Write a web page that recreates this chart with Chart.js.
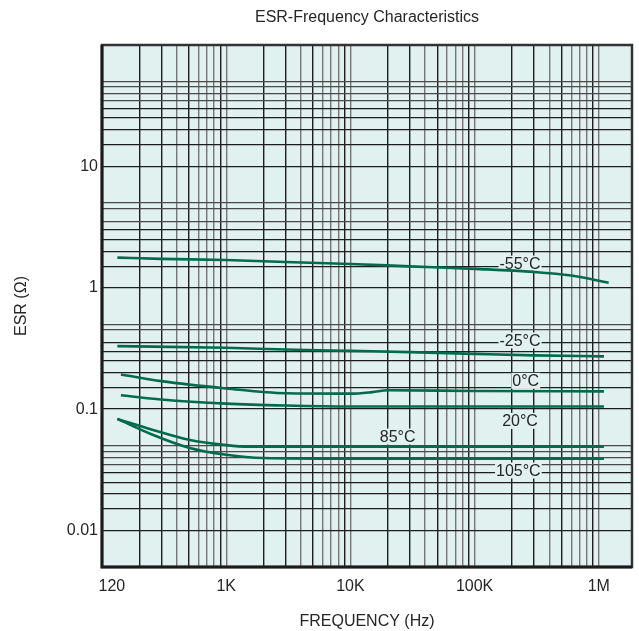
<!DOCTYPE html>
<html>
<head>
<meta charset="utf-8">
<script src="https://cdn.jsdelivr.net/npm/chart.js@4"></script>
<style>
  html, body { margin: 0; padding: 0; background: #fff; }
  #wrap { width: 639px; height: 631px; }
</style>
</head>
<body>
<div id="wrap"><canvas id="esrChart"></canvas></div>
<script>
// ESR curves (Hz / ohm)
const freqM55 = [133, 300, 1000, 3000, 10000, 30000, 100000, 300000, 600000, 1200000];
const esrM55 = [1.77, 1.73, 1.69, 1.63, 1.57, 1.50, 1.43, 1.35, 1.26, 1.10];

const freqM25 = [133, 1000, 3000, 10000, 30000, 100000, 300000, 1100000];
const esrM25 = [0.33, 0.32, 0.31, 0.302, 0.295, 0.285, 0.277, 0.272];

const freq0 = [142, 300, 1000, 3000, 10000, 15000, 20000, 100000, 1100000];
const esr0 = [0.193, 0.170, 0.148, 0.135, 0.134, 0.138, 0.143, 0.141, 0.140];

const freq20 = [142, 300, 1000, 3000, 10000, 1100000];
const esr20 = [0.130, 0.120, 0.111, 0.107, 0.105, 0.105];

const freq85 = [133, 250, 500, 1000, 1500, 10000, 1100000];
const esr85 = [0.083, 0.068, 0.056, 0.0505, 0.049, 0.049, 0.049];

const freq105 = [133, 250, 500, 1000, 2000, 10000, 1100000];
const esr105 = [0.083, 0.062, 0.048, 0.042, 0.0395, 0.039, 0.039];

const tempLabels = ["-55°C", "-25°C", "0°C", "20°C", "85°C", "105°C"];
const labelFreq = [232000, 232000, 258000, 232000, 24000, 225000];
const labelEsr = [1.58, 0.368, 0.171, 0.080, 0.0594, 0.0312];

const xTickVals = [120, 1000, 10000, 100000, 1000000];
const xTickText = ["120", "1K", "10K", "100K", "1M"];
const yTickVals = [0.01, 0.1, 1, 10];
const yTickText = ["0.01", "0.1", "1", "10"];

const FONT = "'Liberation Sans', Arial, sans-serif";
const TEXT = "#262626";
const PLOT_BG = "#e1f1ef";
const GREEN = "#006b4c";

function pairs(xs, ys) {
  return xs.map((x, i) => ({ x: x, y: ys[i] }));
}

function logGrid(from, to, skip) {
  const out = [];
  for (let d = from; d < to * 1.0001; d *= 10) {
    for (let m = 1; m < 10; m++) {
      const v = +(d * m).toPrecision(6);
      if (v > to * 1.0001 || v < from) continue;
      if (skip && skip.includes(v)) continue;
      out.push(v);
    }
  }
  return out;
}

function findIdx(list, v) {
  return list.findIndex((t) => Math.abs(v / t - 1) < 1e-6);
}

function mantissa(v) {
  return Math.round(v / Math.pow(10, Math.floor(Math.log10(v) + 1e-9)));
}

const xGrid = logGrid(100, 1000000).concat([120]);
const yGrid = logGrid(0.005, 100, [0.4, 4]);

function labelBoxes(chart, withText) {
  const { ctx, scales } = chart;
  ctx.save();
  ctx.font = "16px " + FONT;
  ctx.textAlign = "center";
  ctx.textBaseline = "middle";
  tempLabels.forEach((t, i) => {
    const x = scales.x.getPixelForValue(labelFreq[i]);
    const y = scales.y.getPixelForValue(labelEsr[i]);
    const w = ctx.measureText(t).width;
    if (withText) {
      ctx.fillStyle = TEXT;
      ctx.fillText(t, x, y + 1);
    } else {
      ctx.fillStyle = PLOT_BG;
      ctx.fillRect(x - w / 2 - 1, y - 8, w + 2, 16);
    }
  });
  ctx.restore();
}

const plotFrame = {
  id: "plotFrame",
  beforeDraw(chart) {
    const { ctx, chartArea: a } = chart;
    ctx.save();
    ctx.fillStyle = PLOT_BG;
    ctx.fillRect(a.left, a.top, a.right - a.left, a.bottom - a.top);
    ctx.restore();
  },
  beforeDatasetsDraw(chart) {
    labelBoxes(chart, false);
  },
  afterDatasetsDraw(chart) {
    labelBoxes(chart, true);
  },
  afterDraw(chart) {
    const { ctx, chartArea: a } = chart;
    ctx.save();
    ctx.strokeStyle = "#333";
    ctx.lineWidth = 2.5;
    ctx.strokeRect(a.left, a.top, a.right - a.left, a.bottom - a.top);
    ctx.strokeStyle = "#1c1c1c";
    ctx.lineWidth = 3;
    ctx.beginPath();
    ctx.moveTo(a.left, a.top);
    ctx.lineTo(a.left, a.bottom);
    ctx.lineTo(a.right, a.bottom);
    ctx.stroke();
    ctx.fillStyle = TEXT;
    ctx.font = "16px " + FONT;
    ctx.textAlign = "center";
    ctx.textBaseline = "middle";
    ctx.fillText("ESR-Frequency Characteristics", (a.left + a.right) / 2, 18);
    ctx.restore();
  },
};

function curve(label, xs, ys) {
  return {
    label: label,
    data: pairs(xs, ys),
    borderColor: GREEN,
    borderWidth: 2.6,
    pointRadius: 0,
    fill: false,
    cubicInterpolationMode: "monotone",
  };
}

new Chart(document.getElementById("esrChart"), {
  type: "line",
  data: {
    datasets: [
      curve("-55°C", freqM55, esrM55),
      curve("-25°C", freqM25, esrM25),
      curve("0°C", freq0, esr0),
      curve("20°C", freq20, esr20),
      curve("85°C", freq85, esr85),
      curve("105°C", freq105, esr105),
    ],
  },
  options: {
    responsive: true,
    maintainAspectRatio: false,
    animation: false,
    layout: { padding: { left: 0, right: 7, top: 45, bottom: 0 } },
    plugins: {
      legend: { display: false },
      tooltip: { enabled: false },
      title: { display: false },
    },
    scales: {
      x: {
        type: "logarithmic",
        min: 100,
        max: 1850000,
        afterBuildTicks: (scale) => {
          scale.ticks = xGrid.map((v) => ({ value: v }));
        },
        afterFit: (scale) => {
          scale.height = 64;
        },
        border: { display: false },
        grid: {
          drawTicks: false,
          lineWidth: 1.4,
          color: (ctx) => {
            const v = ctx.tick.value;
            if (v === 120) return "rgba(0,0,0,0)";
            const m = mantissa(v);
            return m === 2 || m === 3 || m === 5 || m === 9 ? "#1e1e1e" : "#767676";
          },
        },
        ticks: {
          autoSkip: false,
          maxRotation: 0,
          padding: 10,
          color: TEXT,
          font: { family: FONT, size: 16 },
          callback: (value) => {
            const i = findIdx(xTickVals, value);
            return i >= 0 ? xTickText[i] : "";
          },
        },
        title: {
          display: true,
          text: "FREQUENCY (Hz)",
          color: TEXT,
          font: { family: FONT, size: 16 },
          padding: { top: 0, bottom: 0 },
        },
      },
      y: {
        type: "logarithmic",
        min: 0.005,
        max: 100,
        afterBuildTicks: (scale) => {
          scale.ticks = yGrid.map((v) => ({ value: v }));
        },
        afterFit: (scale) => {
          scale.width = 102;
        },
        border: { display: false },
        grid: {
          drawTicks: false,
          lineWidth: 1.3,
          color: (ctx) => {
            const m = mantissa(ctx.tick.value);
            return m === 1 || m === 2 || m === 3 || m === 7 || m === 8 ? "#1e1e1e" : "#4a4a4a";
          },
        },
        ticks: {
          autoSkip: false,
          padding: 4,
          color: TEXT,
          font: { family: FONT, size: 16 },
          callback: (value) => {
            const i = findIdx(yTickVals, value);
            return i >= 0 ? yTickText[i] : "";
          },
        },
        title: {
          display: true,
          text: "ESR (Ω)",
          color: TEXT,
          font: { family: FONT, size: 16 },
          padding: { top: 12, bottom: 0 },
        },
      },
    },
  },
  plugins: [plotFrame],
});
</script>
</body>
</html>
